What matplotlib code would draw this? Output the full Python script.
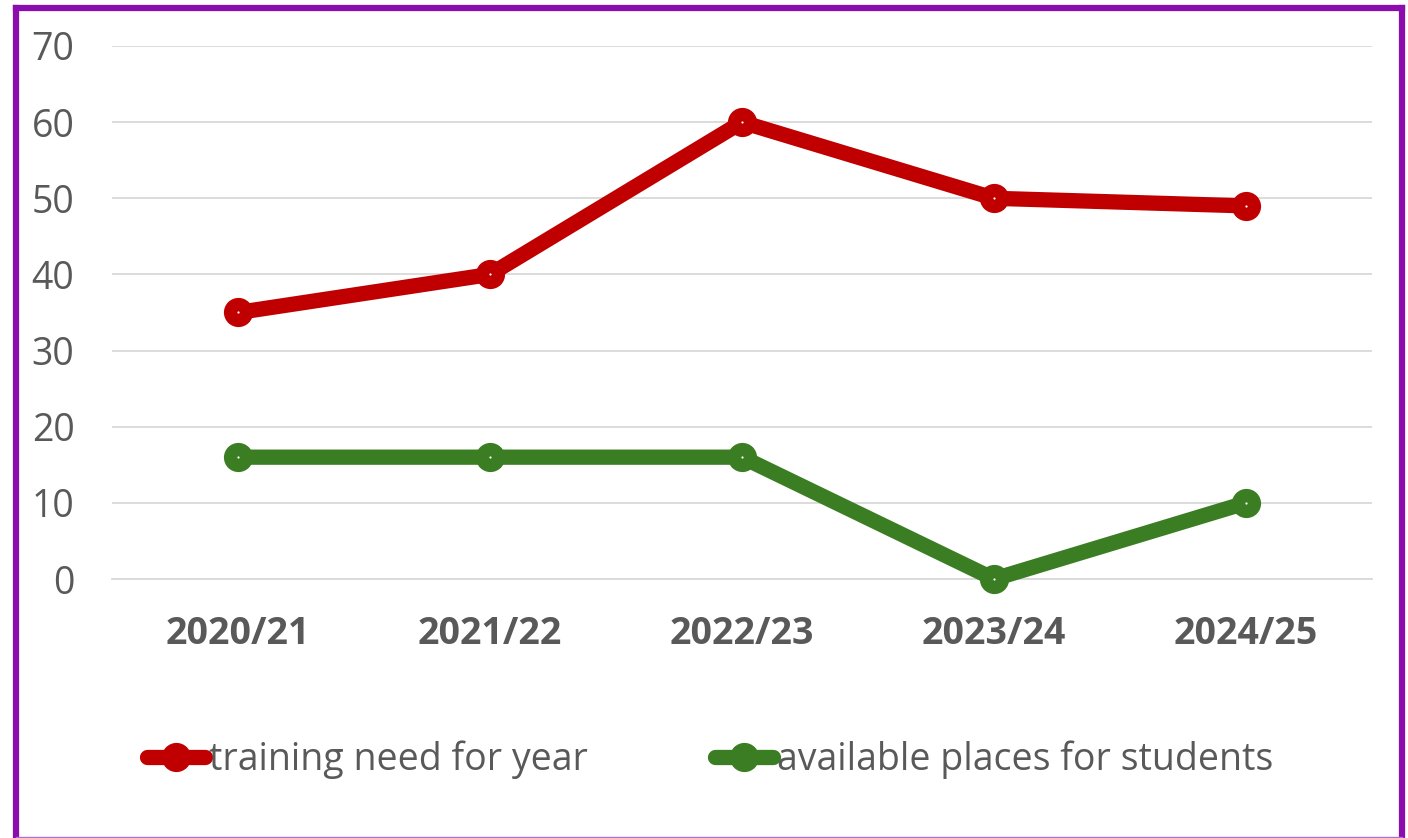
import matplotlib
matplotlib.use("Agg")
import matplotlib.pyplot as plt
from matplotlib.lines import Line2D

categories = ["2020/21", "2021/22", "2022/23", "2023/24", "2024/25"]
training_need = [35, 40, 60, 50, 49]
available_places = [16, 16, 16, 0, 10]
yticks = [0, 10, 20, 30, 40, 50, 60, 70]

plt.rcParams['font.family'] = ['Open Sans', 'DejaVu Sans']
W, H = 1408, 838
fig = plt.figure(figsize=(W / 100, H / 100), dpi=100)
ax = fig.add_axes([112 / W, 1 - 579 / H, 1260 / W, (579 - 46) / H])

red = "#C00000"
green = "#3B7D23"
x = list(range(len(categories)))

for vals, col, lab in [(training_need, red, "training need for year"),
                       (available_places, green, "available places for students")]:
    ax.plot(x, vals, color=col, lw=11, marker='o', ms=20, mfc=col, mec=col,
            solid_capstyle='round', solid_joinstyle='round', label=lab, zorder=3,
            clip_on=False)
    ax.plot(x, vals, ls='none', marker='o', ms=1.6, mfc='white', mec='none', zorder=4,
            clip_on=False)

ax.set_xlim(-0.5, 4.5)
ax.set_ylim(0, 70)
ax.set_yticks(yticks)
ax.set_xticks(x)
ax.set_xticklabels(categories, fontsize=27, fontweight='bold', color='#595959')
ax.tick_params(axis='y', labelsize=27, labelcolor='#595959', length=0, pad=27)
ax.tick_params(axis='x', length=0, pad=26)
ax.grid(axis='y', color='#D9D9D9', lw=1.3)
ax.set_axisbelow(True)
for s in ['top', 'right', 'left']:
    ax.spines[s].set_visible(False)
ax.spines['bottom'].set_color('#D9D9D9')
ax.spines['bottom'].set_linewidth(1.3)

handles = [Line2D([0], [0], color=red, lw=11, marker='o', ms=20, solid_capstyle='round'),
           Line2D([0], [0], color=green, lw=11, marker='o', ms=20, solid_capstyle='round')]
leg = fig.legend(handles, ["training need for year", "available places for students"],
                 loc='center', bbox_to_anchor=(710 / W, 1 - 760 / H), ncol=2,
                 frameon=False, fontsize=27, handlelength=1.55, handletextpad=0.1,
                 columnspacing=3.4, labelcolor='#595959')

# purple border
bc = "#8B0DAD"
fig.add_artist(Line2D([16 / W, 16 / W], [0, 1 - 8 / H], color=bc, lw=4.5, transform=fig.transFigure))
fig.add_artist(Line2D([16 / W, 1402 / W], [1 - 8 / H, 1 - 8 / H], color=bc, lw=4.5, transform=fig.transFigure))
fig.add_artist(Line2D([1402 / W, 1402 / W], [0, 1 - 8 / H], color=bc, lw=4.5, transform=fig.transFigure))
fig.add_artist(Line2D([16 / W, 1402 / W], [1 / H, 1 / H], color="#B070C8", lw=1, transform=fig.transFigure))

fig.savefig("out.png", dpi=100)
